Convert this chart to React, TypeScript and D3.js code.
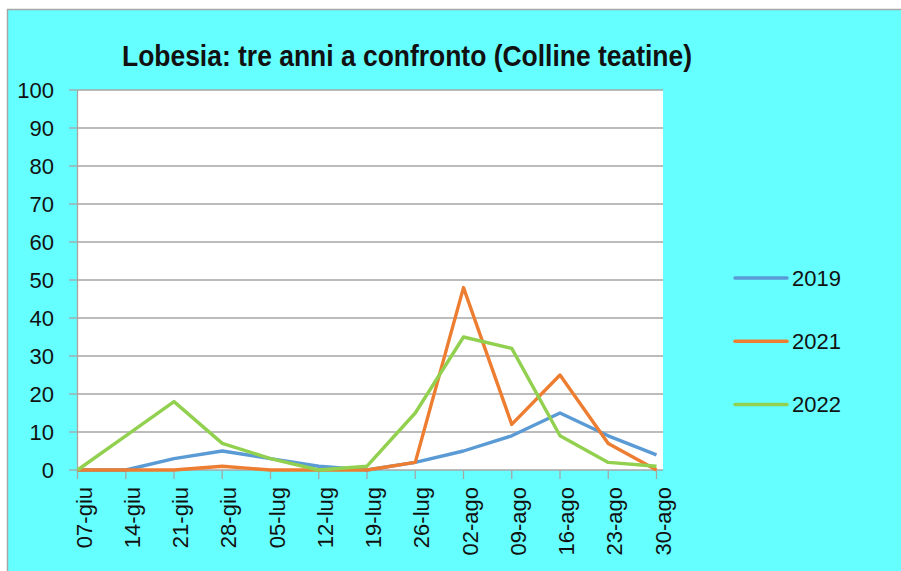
import React from "react";
import * as d3 from "d3";

// Weekly trap catches of Lobesia botrana, Colline teatine
const dates = [
  "07-giu", "14-giu", "21-giu", "28-giu", "05-lug", "12-lug", "19-lug",
  "26-lug", "02-ago", "09-ago", "16-ago", "23-ago", "30-ago",
];
const catches2019 = [0, 0, 3, 5, 3, 1, 0, 2, 5, 9, 15, 9, 4];
const catches2021 = [0, 0, 0, 1, 0, 0, 0, 2, 48, 12, 25, 7, 0];
const catches2022 = [0, 9, 18, 7, 3, 0, 1, 15, 35, 32, 9, 2, 1];
const yTicks = [0, 10, 20, 30, 40, 50, 60, 70, 80, 90, 100];

const seriesNames = ["2019", "2021", "2022"];
const seriesValues = [catches2019, catches2021, catches2022];
const seriesColors = ["#5B9BD5", "#ED7D31", "#92D050"];

const W = 901;
const H = 571;
const plot = { left: 77.5, right: 663, top: 90, bottom: 470 };
const font = "'Liberation Sans', Arial, sans-serif";

export default function App() {
  const x = d3
    .scalePoint<string>()
    .domain(dates)
    .range([plot.left, 656.5]);
  const y = d3.scaleLinear().domain([0, 100]).range([plot.bottom, plot.top]);
  const line = d3
    .line<number>()
    .x((_, i) => x(dates[i]) as number)
    .y((d) => y(d));

  return (
    <svg
      width={W}
      height={H}
      style={{ position: "absolute", left: 0, top: 0, background: "#ffffff" }}
    >
      {/* chart area */}
      <rect
        x={7.5}
        y={9.5}
        width={W + 10}
        height={H + 10}
        fill="#66FFFF"
        stroke="#a6a6a6"
        strokeWidth={1.5}
      />

      {/* title */}
      <text
        x={122}
        y={66}
        fontFamily={font}
        fontWeight="bold"
        fontSize={30}
        fill="#111"
        textLength={570}
        lengthAdjust="spacingAndGlyphs"
      >
        Lobesia: tre anni a confronto (Colline teatine)
      </text>

      {/* plot background */}
      <rect
        x={plot.left}
        y={plot.top}
        width={plot.right - plot.left}
        height={plot.bottom - plot.top}
        fill="#ffffff"
      />

      {/* horizontal gridlines, y ticks and labels */}
      {yTicks.map((t) => (
        <g key={t}>
          <line
            x1={plot.left}
            x2={plot.right}
            y1={y(t)}
            y2={y(t)}
            stroke="#a6a6a6"
            strokeWidth={1.3}
          />
          <line
            x1={69}
            x2={plot.left}
            y1={y(t)}
            y2={y(t)}
            stroke="#a6a6a6"
            strokeWidth={1.3}
          />
          <text
            x={54}
            y={y(t)}
            textAnchor="end"
            dominantBaseline="central"
            fontFamily={font}
            fontSize={22}
            fill="#111"
          >
            {t}
          </text>
        </g>
      ))}

      {/* y axis line */}
      <line
        x1={plot.left}
        x2={plot.left}
        y1={plot.top}
        y2={plot.bottom}
        stroke="#a6a6a6"
        strokeWidth={1.3}
      />

      {/* x ticks and rotated labels */}
      {dates.map((d) => {
        const cx = x(d) as number;
        return (
          <g key={d}>
            <line
              x1={cx}
              x2={cx}
              y1={plot.bottom}
              y2={plot.bottom + 9}
              stroke="#a6a6a6"
              strokeWidth={1.3}
            />
            <text
              transform={`translate(${cx + 14},487) rotate(-90)`}
              textAnchor="end"
              fontFamily={font}
              fontSize={22}
              fill="#111"
            >
              {d}
            </text>
          </g>
        );
      })}

      {/* series lines */}
      {seriesValues.map((vals, i) => (
        <path
          key={seriesNames[i]}
          d={line(vals) as string}
          fill="none"
          stroke={seriesColors[i]}
          strokeWidth={3.4}
          strokeLinejoin="round"
        />
      ))}

      {/* legend */}
      {seriesNames.map((name, i) => {
        const ly = 278 + i * 63.3;
        return (
          <g key={name}>
            <line
              x1={735}
              x2={787}
              y1={ly}
              y2={ly}
              stroke={seriesColors[i]}
              strokeWidth={3.5}
              strokeLinecap="round"
            />
            <text
              x={792}
              y={ly}
              dominantBaseline="central"
              fontFamily={font}
              fontSize={22}
              fill="#111"
            >
              {name}
            </text>
          </g>
        );
      })}
    </svg>
  );
}
